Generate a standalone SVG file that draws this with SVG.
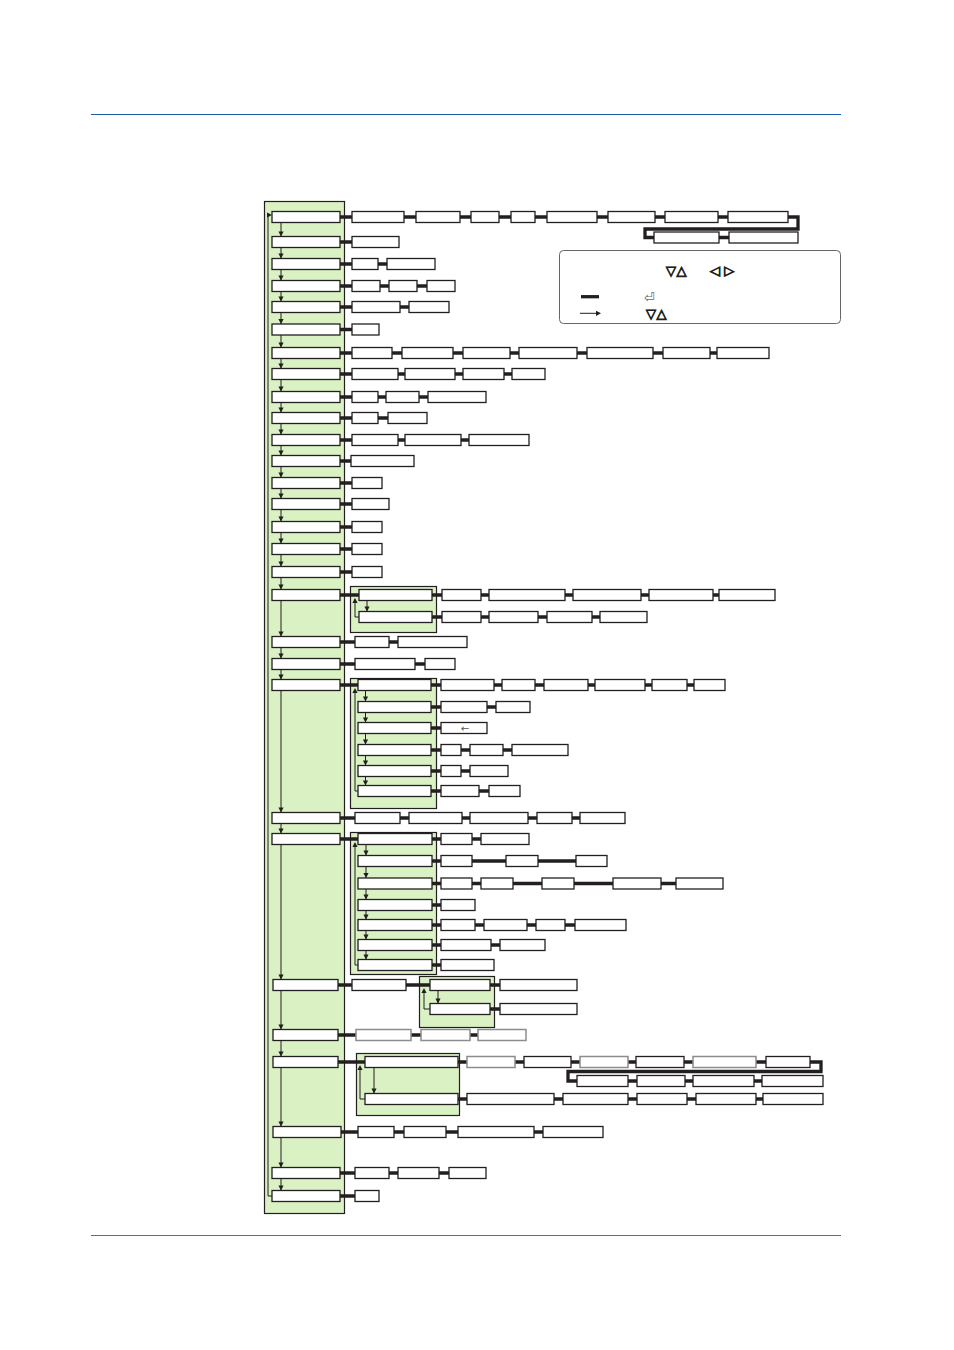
<svg xmlns="http://www.w3.org/2000/svg" xmlns:xlink="http://www.w3.org/1999/xlink" width="954" height="1350" viewBox="0 0 954 1350">
<style>
.b{fill:#fff;stroke:#231f20;stroke-width:1.3}
.gb{fill:#fff;stroke:#8c8c8c;stroke-width:1.5}
.t{fill:none;stroke:#231f20;stroke-width:3.3}
.n{fill:none;stroke:#231f20;stroke-width:1}
.grp{fill:#d9f1c3;stroke:#231f20;stroke-width:1.2}
.ah{fill:#231f20}
.sym{font-family:"DejaVu Sans",sans-serif;fill:#231f20;stroke:#231f20;stroke-width:0.9}
</style>
<defs>
<path id="ad" d="M-2.6,-5 L2.6,-5 L0,0 Z"/>
<path id="au" d="M-2.6,5 L2.6,5 L0,0 Z"/>
<path id="ar" d="M-5,-2.6 L-5,2.6 L0,0 Z"/>
</defs>
<rect width="954" height="1350" fill="#fff"/>
<line x1="91" y1="114.5" x2="841" y2="114.5" stroke="#1a5ca8" stroke-width="1"/>
<line x1="91" y1="1235.5" x2="841" y2="1235.5" stroke="#444" stroke-width="0.8"/>

<g id="panel"><rect class="grp" x="264.5" y="201.5" width="80" height="1012"/></g>
<g id="grp18"><rect class="grp" x="350.5" y="586.5" width="86" height="46"/></g>
<g id="grp21"><rect class="grp" x="350.5" y="678.5" width="86" height="130"/></g>
<g id="grp23"><rect class="grp" x="350.5" y="832.5" width="86" height="142"/></g>
<g id="grp24"><rect class="grp" x="419.5" y="976.5" width="75" height="51"/></g>
<g id="grp26"><rect class="grp" x="356.5" y="1053.5" width="103" height="62"/></g>

<g id="connectors">
<path class="t" d="M340 217H788 M788 217H798V229H645V237.5H729"/>
<path class="t" d="M340 242H399 M340 264H435 M340 286H455 M340 307H449 M340 329.5H379 M340 353H769 M340 374H545 M340 397H486 M340 418H427 M340 440H529 M340 461H414 M340 483H382 M340 504H389 M340 527H382 M340 549H382 M340 572H382"/>
<path class="t" d="M340 595H775 M432 617H647 M340 642H467 M340 664H455"/>
<path class="t" d="M340 685H725 M431 707H530 M431 728H487 M431 750H568 M431 771H508 M431 791H520"/>
<path class="t" d="M340 818H625 M340 839H529 M432 861H607 M432 883.5H723 M432 905H475 M432 925H626 M432 945H545 M432 965H494"/>
<path class="t" d="M338 985H577 M490 1009H577 M338 1035H526"/>
<path class="t" d="M338 1062H810 M810 1062H821V1071.5H568V1081H823 M458 1099H823"/>
<path class="t" d="M341 1132H603 M340 1173H486 M340 1196H379"/>
<path class="n" d="M281 222.5V1190.5"/>
<path class="n" d="M272 1196H268V215H269"/>
<path class="n" d="M367 600.5V611.5 M359 617H355V599"/>
<path class="n" d="M365.5 690.5V785.5 M358 791H355V690"/>
<path class="n" d="M366 844.5V959.5 M358 965H355V844"/>
<path class="n" d="M438 990.5V1003.5 M430 1009H424V990"/>
<path class="n" d="M374 1067.5V1093.5 M365 1099H360V1067"/>
<g class="ah">
<use xlink:href="#ar" x="272" y="215"/>
<use xlink:href="#ad" x="281" y="236.5"/><use xlink:href="#ad" x="281" y="258.5"/><use xlink:href="#ad" x="281" y="280.5"/><use xlink:href="#ad" x="281" y="301.5"/><use xlink:href="#ad" x="281" y="324"/><use xlink:href="#ad" x="281" y="347.5"/><use xlink:href="#ad" x="281" y="368.5"/><use xlink:href="#ad" x="281" y="391.5"/><use xlink:href="#ad" x="281" y="412.5"/><use xlink:href="#ad" x="281" y="434.5"/><use xlink:href="#ad" x="281" y="455.5"/><use xlink:href="#ad" x="281" y="477.5"/><use xlink:href="#ad" x="281" y="498.5"/><use xlink:href="#ad" x="281" y="521.5"/><use xlink:href="#ad" x="281" y="543.5"/><use xlink:href="#ad" x="281" y="566.5"/><use xlink:href="#ad" x="281" y="589.5"/><use xlink:href="#ad" x="281" y="636.5"/><use xlink:href="#ad" x="281" y="658.5"/><use xlink:href="#ad" x="281" y="679.5"/><use xlink:href="#ad" x="281" y="812.5"/><use xlink:href="#ad" x="281" y="833.5"/><use xlink:href="#ad" x="281" y="979.5"/><use xlink:href="#ad" x="281" y="1029.5"/><use xlink:href="#ad" x="281" y="1056.5"/><use xlink:href="#ad" x="281" y="1126.5"/><use xlink:href="#ad" x="281" y="1167.5"/><use xlink:href="#ad" x="281" y="1190.5"/>
<use xlink:href="#ad" x="367" y="611.5"/><use xlink:href="#au" x="355" y="598"/>
<use xlink:href="#ad" x="365.5" y="701.5"/><use xlink:href="#ad" x="365.5" y="722.5"/><use xlink:href="#ad" x="365.5" y="744.5"/><use xlink:href="#ad" x="365.5" y="765.5"/><use xlink:href="#ad" x="365.5" y="785.5"/><use xlink:href="#au" x="355" y="688"/>
<use xlink:href="#ad" x="366" y="855.5"/><use xlink:href="#ad" x="366" y="878"/><use xlink:href="#ad" x="366" y="899.5"/><use xlink:href="#ad" x="366" y="919.5"/><use xlink:href="#ad" x="366" y="939.5"/><use xlink:href="#ad" x="366" y="959.5"/><use xlink:href="#au" x="355" y="842"/>
<use xlink:href="#ad" x="438" y="1003.5"/><use xlink:href="#au" x="424" y="988"/>
<use xlink:href="#ad" x="374" y="1093.5"/><use xlink:href="#au" x="360" y="1065"/>
</g>
</g>

<g id="main">
<g id="m1"><rect class="b" x="272" y="211.5" width="68" height="11"/></g>
<g id="m2"><rect class="b" x="272" y="236.5" width="68" height="11"/></g>
<g id="m3"><rect class="b" x="272" y="258.5" width="68" height="11"/></g>
<g id="m4"><rect class="b" x="272" y="280.5" width="68" height="11"/></g>
<g id="m5"><rect class="b" x="272" y="301.5" width="68" height="11"/></g>
<g id="m6"><rect class="b" x="272" y="324" width="68" height="11"/></g>
<g id="m7"><rect class="b" x="272" y="347.5" width="68" height="11"/></g>
<g id="m8"><rect class="b" x="272" y="368.5" width="68" height="11"/></g>
<g id="m9"><rect class="b" x="272" y="391.5" width="68" height="11"/></g>
<g id="m10"><rect class="b" x="272" y="412.5" width="68" height="11"/></g>
<g id="m11"><rect class="b" x="272" y="434.5" width="68" height="11"/></g>
<g id="m12"><rect class="b" x="272" y="455.5" width="68" height="11"/></g>
<g id="m13"><rect class="b" x="272" y="477.5" width="68" height="11"/></g>
<g id="m14"><rect class="b" x="272" y="498.5" width="68" height="11"/></g>
<g id="m15"><rect class="b" x="272" y="521.5" width="68" height="11"/></g>
<g id="m16"><rect class="b" x="272" y="543.5" width="68" height="11"/></g>
<g id="m17"><rect class="b" x="272" y="566.5" width="68" height="11"/></g>
<g id="m18"><rect class="b" x="272" y="589.5" width="68" height="11"/></g>
<g id="m19"><rect class="b" x="272" y="636.5" width="68" height="11"/></g>
<g id="m20"><rect class="b" x="272" y="658.5" width="68" height="11"/></g>
<g id="m21"><rect class="b" x="272" y="679.5" width="68" height="11"/></g>
<g id="m22"><rect class="b" x="272" y="812.5" width="68" height="11"/></g>
<g id="m23"><rect class="b" x="272" y="833.5" width="68" height="11"/></g>
<g id="m24"><rect class="b" x="273" y="979.5" width="65" height="11"/></g>
<g id="m25"><rect class="b" x="273" y="1029.5" width="65" height="11"/></g>
<g id="m26"><rect class="b" x="273" y="1056.5" width="65" height="11"/></g>
<g id="m27"><rect class="b" x="273" y="1126.5" width="68" height="11"/></g>
<g id="m28"><rect class="b" x="272" y="1167.5" width="68" height="11"/></g>
<g id="m29"><rect class="b" x="272" y="1190.5" width="68" height="11"/></g>
</g>

<g id="subnodes">
<g id="s18a"><rect class="b" x="359" y="589.5" width="73" height="11"/></g>
<g id="s18b"><rect class="b" x="359" y="611.5" width="73" height="11"/></g>
<g id="s21a"><rect class="b" x="358" y="679.5" width="73" height="11"/></g>
<g id="s21b"><rect class="b" x="358" y="701.5" width="73" height="11"/></g>
<g id="s21c"><rect class="b" x="358" y="722.5" width="73" height="11"/></g>
<g id="s21d"><rect class="b" x="358" y="744.5" width="73" height="11"/></g>
<g id="s21e"><rect class="b" x="358" y="765.5" width="73" height="11"/></g>
<g id="s21f"><rect class="b" x="358" y="785.5" width="73" height="11"/></g>
<g id="s23a"><rect class="b" x="358" y="833.5" width="74" height="11"/></g>
<g id="s23b"><rect class="b" x="358" y="855.5" width="74" height="11"/></g>
<g id="s23c"><rect class="b" x="358" y="878" width="74" height="11"/></g>
<g id="s23d"><rect class="b" x="358" y="899.5" width="74" height="11"/></g>
<g id="s23e"><rect class="b" x="358" y="919.5" width="74" height="11"/></g>
<g id="s23f"><rect class="b" x="358" y="939.5" width="74" height="11"/></g>
<g id="s23g"><rect class="b" x="358" y="959.5" width="74" height="11"/></g>
<g id="s24a"><rect class="b" x="430" y="979.5" width="60" height="11"/></g>
<g id="s24b"><rect class="b" x="430" y="1003.5" width="60" height="11"/></g>
<g id="s26a"><rect class="b" x="365" y="1056.5" width="93" height="11"/></g>
<g id="s26b"><rect class="b" x="365" y="1093.5" width="93" height="11"/></g>
</g>

<g id="chains">
<g id="r1_1"><rect class="b" x="352" y="211.5" width="52" height="11"/></g>
<g id="r1_2"><rect class="b" x="416" y="211.5" width="44" height="11"/></g>
<g id="r1_3"><rect class="b" x="471" y="211.5" width="28" height="11"/></g>
<g id="r1_4"><rect class="b" x="511" y="211.5" width="24" height="11"/></g>
<g id="r1_5"><rect class="b" x="547" y="211.5" width="50" height="11"/></g>
<g id="r1_6"><rect class="b" x="608" y="211.5" width="47" height="11"/></g>
<g id="r1_7"><rect class="b" x="665" y="211.5" width="53" height="11"/></g>
<g id="r1_8"><rect class="b" x="728" y="211.5" width="60" height="11"/></g>
<g id="r1_9"><rect class="b" x="654" y="232" width="65" height="11"/></g>
<g id="r1_10"><rect class="b" x="729" y="232" width="69" height="11"/></g>
<g id="r2_1"><rect class="b" x="352" y="236.5" width="47" height="11"/></g>
<g id="r3_1"><rect class="b" x="352" y="258.5" width="26" height="11"/></g>
<g id="r3_2"><rect class="b" x="387" y="258.5" width="48" height="11"/></g>
<g id="r4_1"><rect class="b" x="352" y="280.5" width="28" height="11"/></g>
<g id="r4_2"><rect class="b" x="389" y="280.5" width="28" height="11"/></g>
<g id="r4_3"><rect class="b" x="427" y="280.5" width="28" height="11"/></g>
<g id="r5_1"><rect class="b" x="352" y="301.5" width="48" height="11"/></g>
<g id="r5_2"><rect class="b" x="409" y="301.5" width="40" height="11"/></g>
<g id="r6_1"><rect class="b" x="352" y="324" width="27" height="11"/></g>
<g id="r7_1"><rect class="b" x="352" y="347.5" width="40" height="11"/></g>
<g id="r7_2"><rect class="b" x="402" y="347.5" width="51" height="11"/></g>
<g id="r7_3"><rect class="b" x="463" y="347.5" width="47" height="11"/></g>
<g id="r7_4"><rect class="b" x="519" y="347.5" width="58" height="11"/></g>
<g id="r7_5"><rect class="b" x="587" y="347.5" width="66" height="11"/></g>
<g id="r7_6"><rect class="b" x="663" y="347.5" width="47" height="11"/></g>
<g id="r7_7"><rect class="b" x="717" y="347.5" width="52" height="11"/></g>
<g id="r8_1"><rect class="b" x="352" y="368.5" width="46" height="11"/></g>
<g id="r8_2"><rect class="b" x="405" y="368.5" width="50" height="11"/></g>
<g id="r8_3"><rect class="b" x="463" y="368.5" width="41" height="11"/></g>
<g id="r8_4"><rect class="b" x="512" y="368.5" width="33" height="11"/></g>
<g id="r9_1"><rect class="b" x="352" y="391.5" width="26" height="11"/></g>
<g id="r9_2"><rect class="b" x="386" y="391.5" width="33" height="11"/></g>
<g id="r9_3"><rect class="b" x="428" y="391.5" width="58" height="11"/></g>
<g id="r10_1"><rect class="b" x="352" y="412.5" width="26" height="11"/></g>
<g id="r10_2"><rect class="b" x="388" y="412.5" width="39" height="11"/></g>
<g id="r11_1"><rect class="b" x="352" y="434.5" width="46" height="11"/></g>
<g id="r11_2"><rect class="b" x="405" y="434.5" width="56" height="11"/></g>
<g id="r11_3"><rect class="b" x="469" y="434.5" width="60" height="11"/></g>
<g id="r12_1"><rect class="b" x="351" y="455.5" width="63" height="11"/></g>
<g id="r13_1"><rect class="b" x="352" y="477.5" width="30" height="11"/></g>
<g id="r14_1"><rect class="b" x="352" y="498.5" width="37" height="11"/></g>
<g id="r15_1"><rect class="b" x="352" y="521.5" width="30" height="11"/></g>
<g id="r16_1"><rect class="b" x="352" y="543.5" width="30" height="11"/></g>
<g id="r17_1"><rect class="b" x="352" y="566.5" width="30" height="11"/></g>
<g id="r18a_1"><rect class="b" x="442" y="589.5" width="39" height="11"/></g>
<g id="r18a_2"><rect class="b" x="489" y="589.5" width="76" height="11"/></g>
<g id="r18a_3"><rect class="b" x="573" y="589.5" width="68" height="11"/></g>
<g id="r18a_4"><rect class="b" x="649" y="589.5" width="64" height="11"/></g>
<g id="r18a_5"><rect class="b" x="719" y="589.5" width="56" height="11"/></g>
<g id="r18b_1"><rect class="b" x="442" y="611.5" width="39" height="11"/></g>
<g id="r18b_2"><rect class="b" x="489" y="611.5" width="49" height="11"/></g>
<g id="r18b_3"><rect class="b" x="547" y="611.5" width="45" height="11"/></g>
<g id="r18b_4"><rect class="b" x="600" y="611.5" width="47" height="11"/></g>
<g id="r19_1"><rect class="b" x="355" y="636.5" width="34" height="11"/></g>
<g id="r19_2"><rect class="b" x="398" y="636.5" width="69" height="11"/></g>
<g id="r20_1"><rect class="b" x="355" y="658.5" width="60" height="11"/></g>
<g id="r20_2"><rect class="b" x="425" y="658.5" width="30" height="11"/></g>
<g id="r21a_1"><rect class="b" x="441" y="679.5" width="53" height="11"/></g>
<g id="r21a_2"><rect class="b" x="502" y="679.5" width="33" height="11"/></g>
<g id="r21a_3"><rect class="b" x="544" y="679.5" width="44" height="11"/></g>
<g id="r21a_4"><rect class="b" x="595" y="679.5" width="50" height="11"/></g>
<g id="r21a_5"><rect class="b" x="652" y="679.5" width="35" height="11"/></g>
<g id="r21a_6"><rect class="b" x="694" y="679.5" width="31" height="11"/></g>
<g id="r21b_1"><rect class="b" x="441" y="701.5" width="46" height="11"/></g>
<g id="r21b_2"><rect class="b" x="496" y="701.5" width="34" height="11"/></g>
<g id="r21c_1"><rect class="b" x="441" y="722.5" width="46" height="11"/><text x="465" y="731.5" text-anchor="middle" font-family="DejaVu Sans, sans-serif" font-size="10" fill="#555">←</text></g>
<g id="r21d_1"><rect class="b" x="441" y="744.5" width="20" height="11"/></g>
<g id="r21d_2"><rect class="b" x="470" y="744.5" width="33" height="11"/></g>
<g id="r21d_3"><rect class="b" x="512" y="744.5" width="56" height="11"/></g>
<g id="r21e_1"><rect class="b" x="441" y="765.5" width="20" height="11"/></g>
<g id="r21e_2"><rect class="b" x="470" y="765.5" width="38" height="11"/></g>
<g id="r21f_1"><rect class="b" x="441" y="785.5" width="38" height="11"/></g>
<g id="r21f_2"><rect class="b" x="489" y="785.5" width="31" height="11"/></g>
<g id="r22_1"><rect class="b" x="355" y="812.5" width="45" height="11"/></g>
<g id="r22_2"><rect class="b" x="409" y="812.5" width="53" height="11"/></g>
<g id="r22_3"><rect class="b" x="470" y="812.5" width="58" height="11"/></g>
<g id="r22_4"><rect class="b" x="537" y="812.5" width="35" height="11"/></g>
<g id="r22_5"><rect class="b" x="580" y="812.5" width="45" height="11"/></g>
<g id="r23a_1"><rect class="b" x="441" y="833.5" width="31" height="11"/></g>
<g id="r23a_2"><rect class="b" x="481" y="833.5" width="48" height="11"/></g>
<g id="r23b_1"><rect class="b" x="441" y="855.5" width="31" height="11"/></g>
<g id="r23b_2"><rect class="b" x="506" y="855.5" width="32" height="11"/></g>
<g id="r23b_3"><rect class="b" x="576" y="855.5" width="31" height="11"/></g>
<g id="r23c_1"><rect class="b" x="441" y="878" width="31" height="11"/></g>
<g id="r23c_2"><rect class="b" x="481" y="878" width="32" height="11"/></g>
<g id="r23c_3"><rect class="b" x="542" y="878" width="32" height="11"/></g>
<g id="r23c_4"><rect class="b" x="613" y="878" width="48" height="11"/></g>
<g id="r23c_5"><rect class="b" x="676" y="878" width="47" height="11"/></g>
<g id="r23d_1"><rect class="b" x="441" y="899.5" width="34" height="11"/></g>
<g id="r23e_1"><rect class="b" x="441" y="919.5" width="34" height="11"/></g>
<g id="r23e_2"><rect class="b" x="484" y="919.5" width="43" height="11"/></g>
<g id="r23e_3"><rect class="b" x="536" y="919.5" width="29" height="11"/></g>
<g id="r23e_4"><rect class="b" x="575" y="919.5" width="51" height="11"/></g>
<g id="r23f_1"><rect class="b" x="441" y="939.5" width="50" height="11"/></g>
<g id="r23f_2"><rect class="b" x="500" y="939.5" width="45" height="11"/></g>
<g id="r23g_1"><rect class="b" x="441" y="959.5" width="53" height="11"/></g>
<g id="r24_1"><rect class="b" x="352" y="979.5" width="54" height="11"/></g>
<g id="r24a_1"><rect class="b" x="500" y="979.5" width="77" height="11"/></g>
<g id="r24b_1"><rect class="b" x="500" y="1003.5" width="77" height="11"/></g>
<g id="r25_1"><rect class="gb" x="356" y="1029.5" width="55" height="11"/></g>
<g id="r25_2"><rect class="gb" x="421" y="1029.5" width="49" height="11"/></g>
<g id="r25_3"><rect class="gb" x="478" y="1029.5" width="48" height="11"/></g>
<g id="r26a_1"><rect class="gb" x="467" y="1056.5" width="48" height="11"/></g>
<g id="r26a_2"><rect class="b" x="524" y="1056.5" width="47" height="11"/></g>
<g id="r26a_3"><rect class="gb" x="580" y="1056.5" width="48" height="11"/></g>
<g id="r26a_4"><rect class="b" x="636" y="1056.5" width="48" height="11"/></g>
<g id="r26a_5"><rect class="gb" x="693" y="1056.5" width="63" height="11"/></g>
<g id="r26a_6"><rect class="b" x="766" y="1056.5" width="44" height="11"/></g>
<g id="r26a_7"><rect class="b" x="577" y="1075.5" width="51" height="11"/></g>
<g id="r26a_8"><rect class="b" x="637" y="1075.5" width="48" height="11"/></g>
<g id="r26a_9"><rect class="b" x="693" y="1075.5" width="61" height="11"/></g>
<g id="r26a_10"><rect class="b" x="762" y="1075.5" width="61" height="11"/></g>
<g id="r26b_1"><rect class="b" x="467" y="1093.5" width="87" height="11"/></g>
<g id="r26b_2"><rect class="b" x="563" y="1093.5" width="65" height="11"/></g>
<g id="r26b_3"><rect class="b" x="637" y="1093.5" width="50" height="11"/></g>
<g id="r26b_4"><rect class="b" x="696" y="1093.5" width="60" height="11"/></g>
<g id="r26b_5"><rect class="b" x="763" y="1093.5" width="60" height="11"/></g>
<g id="r27_1"><rect class="b" x="358" y="1126.5" width="36" height="11"/></g>
<g id="r27_2"><rect class="b" x="404" y="1126.5" width="42" height="11"/></g>
<g id="r27_3"><rect class="b" x="458" y="1126.5" width="76" height="11"/></g>
<g id="r27_4"><rect class="b" x="543" y="1126.5" width="60" height="11"/></g>
<g id="r28_1"><rect class="b" x="355" y="1167.5" width="34" height="11"/></g>
<g id="r28_2"><rect class="b" x="398" y="1167.5" width="41" height="11"/></g>
<g id="r28_3"><rect class="b" x="449" y="1167.5" width="37" height="11"/></g>
<g id="r29_1"><rect class="b" x="355" y="1190.5" width="24" height="11"/></g>
</g>

<g id="legend">
<rect x="559.5" y="250.5" width="281" height="73" rx="4" fill="#fff" stroke="#666" stroke-width="1"/>
<text class="sym" x="666" y="275" font-size="13" letter-spacing="0.5">▽△</text>
<text class="sym" x="710" y="275" font-size="13" xml:space="preserve">◁ ▷</text>
<line x1="581" y1="296.7" x2="599" y2="296.7" stroke="#231f20" stroke-width="3.3"/>
<text x="644" y="301.5" font-family="DejaVu Sans, sans-serif" font-size="13" fill="#666">⏎</text>
<line x1="580" y1="313.3" x2="596" y2="313.3" stroke="#231f20" stroke-width="1"/>
<use xlink:href="#ar" x="601" y="313.3" class="ah"/>
<text class="sym" x="646" y="318" font-size="13" letter-spacing="0.5">▽△</text>
</g>
</svg>
